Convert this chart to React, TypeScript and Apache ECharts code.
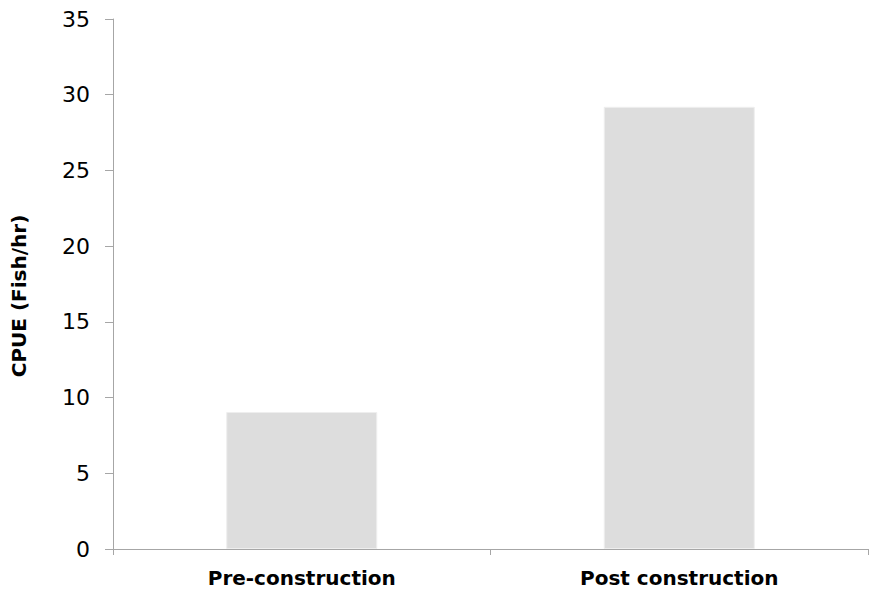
import React, { useEffect, useRef } from "react";
import * as echarts from "echarts";

const categories = ["Pre-construction", "Post construction"];
const cpueValues = [9.05, 29.2];
const yAxisName = "CPUE (Fish/hr)";
const yTicks = { min: 0, max: 35, interval: 5 };

export default function App() {
  const ref = useRef<HTMLDivElement>(null);
  useEffect(() => {
    if (!ref.current) return;
    const chart = echarts.init(ref.current, null, { renderer: "svg" });
    const font = "DejaVu Sans, Verdana, sans-serif";
    chart.setOption({
      animation: false,
      backgroundColor: "#ffffff",
      grid: { left: 113, right: 16, top: 19, bottom: 41 },
      xAxis: {
        type: "category",
        data: categories,
        axisLine: { show: true, lineStyle: { color: "#a6a6a6", width: 1 } },
        axisTick: { show: true, length: 6, lineStyle: { color: "#a6a6a6" } },
        axisLabel: {
          color: "#000",
          fontFamily: font,
          fontSize: 20,
          fontWeight: "bold",
          margin: 19,
        },
        splitLine: { show: false },
      },
      yAxis: {
        type: "value",
        min: yTicks.min,
        max: yTicks.max,
        interval: yTicks.interval,
        name: yAxisName,
        nameLocation: "middle",
        nameGap: 84,
        nameRotate: 90,
        nameTextStyle: {
          color: "#000",
          fontFamily: font,
          fontSize: 20,
          fontWeight: "bold",
          padding: [0, 24, 0, 0],
        },
        axisLine: { show: true, lineStyle: { color: "#a6a6a6", width: 1 } },
        axisTick: { show: true, length: 8, lineStyle: { color: "#a6a6a6" } },
        axisLabel: {
          color: "#000",
          fontFamily: font,
          fontSize: 22,
          margin: 23,
        },
        splitLine: { show: false },
      },
      series: [
        {
          type: "bar",
          data: cpueValues,
          barWidth: "40%",
          itemStyle: {
            color: "#dddddd",
            borderColor: "#eeeeee",
            borderWidth: 1,
          },
        },
      ],
    });
    return () => chart.dispose();
  }, []);
  return <div ref={ref} style={{ width: 884, height: 590, position: "absolute", left: 0, top: 0 }} />;
}
